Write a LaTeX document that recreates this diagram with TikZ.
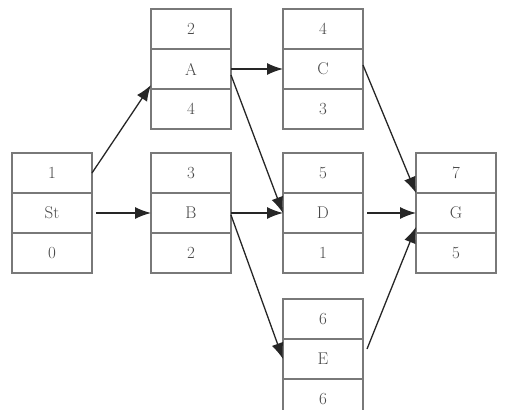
\documentclass[tikz,border=0pt]{standalone}
\usepackage{tikz}
\usetikzlibrary{calc, positioning, arrows.meta}

\begin{document}
\begin{tikzpicture}[
    x=1pt, y=-1pt,
    cell/.style={
        rectangle,
        draw=gray!95!black,
        line width=1.3pt,
        outer sep=0pt,
        minimum width=80pt,
        minimum height=40pt,
        text=black!72,
        font=\fontsize{17}{19}\selectfont
    },
    linkarr/.style={-{Latex[length=16pt, width=12pt]}, line width=1.3pt, black!85}
]
\useasboundingbox (0,0) rectangle (507,410);

% Start
\node[cell] (st2) at (52,213) {St};
\node[cell, above=0pt of st2] (st1) {1};
\node[cell, below=0pt of st2] (st3) {0};

% A
\node[cell] (a2) at (191,69) {A};
\node[cell, above=0pt of a2] (a1) {2};
\node[cell, below=0pt of a2] (a3) {4};

% B
\node[cell] (b2) at (191,213) {B};
\node[cell, above=0pt of b2] (b1) {3};
\node[cell, below=0pt of b2] (b3) {2};

% C
\node[cell] (c2) at (323,69) {C};
\node[cell, above=0pt of c2] (c1) {4};
\node[cell, below=0pt of c2] (c3) {3};

% D
\node[cell] (d2) at (323,213) {D};
\node[cell, above=0pt of d2] (d1) {5};
\node[cell, below=0pt of d2] (d3) {1};

% E
\node[cell] (e2) at (323,359) {E};
\node[cell, above=0pt of e2] (e1) {6};
\node[cell, below=0pt of e2] (e3) {6};

% G
\node[cell] (g2) at (456,213) {G};
\node[cell, above=0pt of g2] (g1) {7};
\node[cell, below=0pt of g2] (g3) {5};

% Links
\draw[linkarr] (st1.east) -- ($(a2.south west)+(0,-4)$);
\draw[linkarr] ($(st2.east)+(4,0)$) -- (b2.west);

\draw[linkarr] (a2.east) -- (c2.west);
\draw[linkarr] ($(a2.east)+(0,6)$) -- (d2.west);

\draw[linkarr] (b2.east) -- (d2.west);
\draw[linkarr] ($(b2.east)+(0,2)$) -- (e2.west);

\draw[linkarr] ($(c2.east)+(0,-4)$) -- (g1.south west);
\draw[linkarr] ($(d2.east)+(4,0)$) -- (g2.west);
\draw[linkarr] ($(e2.east)+(4,-10)$) -- ($(g2.south west)+(0,-6)$);
\end{tikzpicture}
\end{document}
